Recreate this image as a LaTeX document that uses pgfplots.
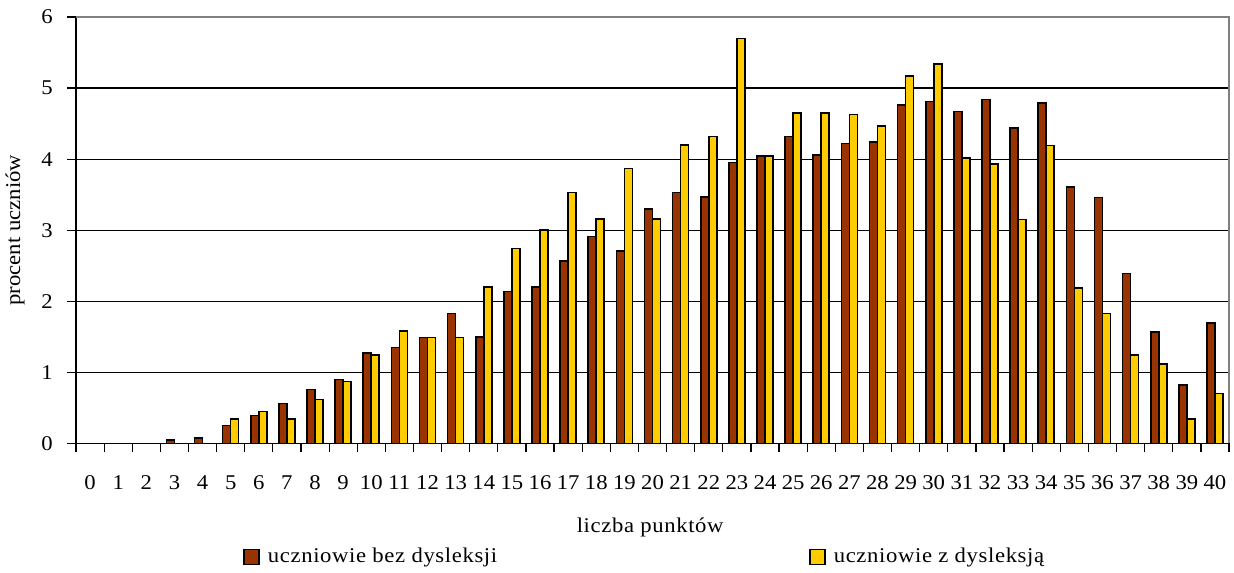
\documentclass[border=0pt]{standalone}
\usepackage{pgfplots}
\pgfplotsset{compat=1.18}
\usepackage{fontspec}
\setmainfont{Liberation Serif}[FakeStretch=1.08]
\newfontfamily\spacedfont{Liberation Serif}[FakeStretch=1.08, LetterSpace=3]
\definecolor{barbrown}{HTML}{993300}
\definecolor{baryellow}{HTML}{FFCC00}
\definecolor{framegray}{HTML}{808080}

\begin{document}
\fontsize{10.5}{12.6}\selectfont%
\begin{tikzpicture}
\path[use as bounding box] (0,0) rectangle (617pt,286pt);
\begin{axis}[
  at={(38pt,64.3pt)}, anchor=south west,
  scale only axis, width=576.5pt, height=213.2pt,
  xmin=-0.5, xmax=40.5, ymin=0, ymax=6,
  ybar=0pt, bar width=4pt,
  axis x line*=bottom, axis y line*=left,
  axis line style={-, line width=0.8pt, black},
  xtick={-0.5,0.5,...,40.5},
  x tick label as interval,
  xticklabels={0,1,2,3,4,5,6,7,8,9,10,11,12,13,14,15,16,17,18,19,20,21,22,23,24,25,26,27,28,29,30,31,32,33,34,35,36,37,38,39,40},
  ytick={0,1,...,6},
  tick align=outside, major tick length=4.5pt,
  tick style={black, line width=0.6pt},
  ymajorgrids, grid style={black, line width=0.6pt},
  /pgf/number format/assume math mode=true,
  xticklabel style={yshift=-7.8pt},
  yticklabel style={xshift=-3.5pt},
  xlabel={liczba punktów},
  xlabel style={font=\spacedfont, at={(axis description cs:0.498,-0.2078)}, anchor=base},
  ylabel={procent uczniów},
  ylabel style={at={(axis description cs:-0.0529,0.5)}, anchor=center, rotate=0},
  legend columns=2,
  legend style={draw=none, fill=none, inner sep=0pt, font=\spacedfont,
    at={(axis description cs:0.1448,-0.266)}, anchor=west,
    /tikz/every odd column/.append style={column sep=2pt},
    /tikz/every even column/.append style={column sep=154pt}},
  legend image code/.code={\draw[#1,/tikz/.cd,line width=0.8pt] (0pt,-3.75pt) rectangle (7.5pt,3.75pt);},
  after end axis/.code={
    \draw[framegray, line width=0.9pt] (rel axis cs:0,1) -- (rel axis cs:1,1) -- (rel axis cs:1,0);
  },
]
% pupils without dyslexia
\addplot[fill=barbrown, draw=black, line width=0.8pt] coordinates {
  (0,0) (1,0) (2,0) (3,0.05) (4,0.08) (5,0.25) (6,0.39) (7,0.56) (8,0.76) (9,0.90)
  (10,1.27) (11,1.35) (12,1.49) (13,1.83) (14,1.50) (15,2.14) (16,2.20) (17,2.57) (18,2.91) (19,2.71)
  (20,3.30) (21,3.53) (22,3.47) (23,3.95) (24,4.04) (25,4.32) (26,4.06) (27,4.22) (28,4.24) (29,4.76)
  (30,4.81) (31,4.67) (32,4.84) (33,4.44) (34,4.79) (35,3.61) (36,3.46) (37,2.39) (38,1.57) (39,0.82)
  (40,1.69)
};
\addlegendentry{uczniowie bez dysleksji}
% pupils with dyslexia
\addplot[fill=baryellow, draw=black, line width=0.8pt] coordinates {
  (0,0) (1,0) (2,0) (3,0) (4,0) (5,0.34) (6,0.45) (7,0.34) (8,0.62) (9,0.87)
  (10,1.24) (11,1.58) (12,1.49) (13,1.49) (14,2.20) (15,2.74) (16,3.00) (17,3.53) (18,3.16) (19,3.87)
  (20,3.16) (21,4.20) (22,4.32) (23,5.70) (24,4.04) (25,4.65) (26,4.65) (27,4.63) (28,4.47) (29,5.17)
  (30,5.34) (31,4.02) (32,3.93) (33,3.15) (34,4.19) (35,2.19) (36,1.83) (37,1.24) (38,1.12) (39,0.34)
  (40,0.70)
};
\addlegendentry{uczniowie z dysleksją}
\end{axis}
\end{tikzpicture}
\end{document}
